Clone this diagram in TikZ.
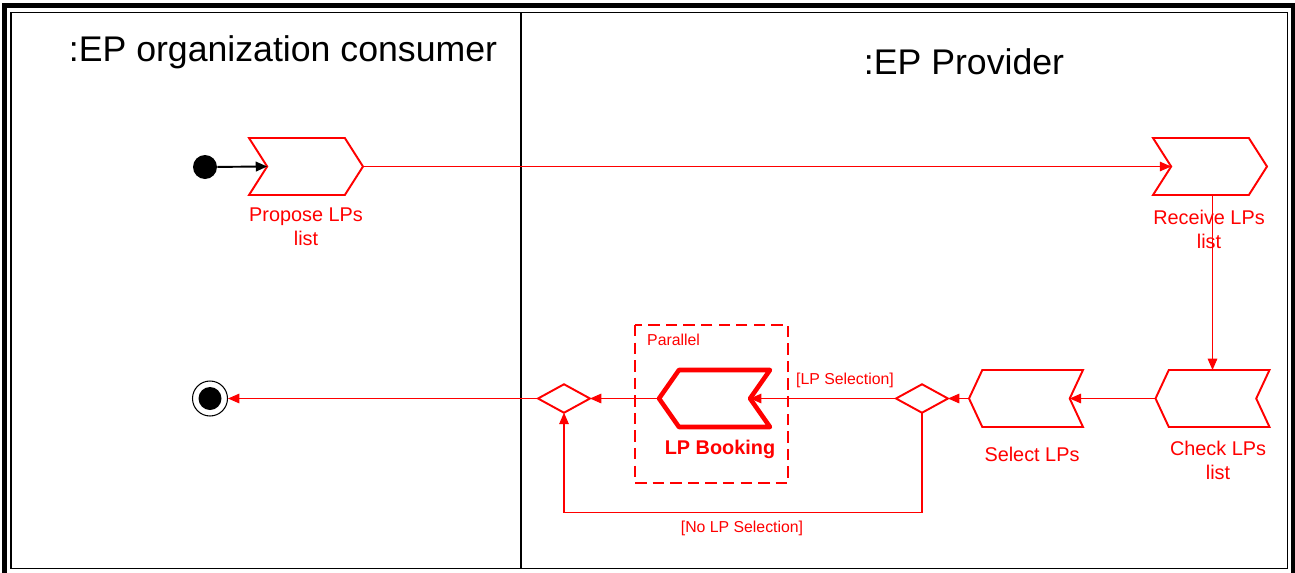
\documentclass[tikz,border=0pt]{standalone}
\usepackage{fontspec}
\setmainfont{Liberation Sans}
\usetikzlibrary{arrows.meta,positioning,calc,shapes.symbols,shapes.geometric}
\definecolor{Flow}{HTML}{FF0000}
\definecolor{Ink}{HTML}{000000}

\begin{document}
\begin{tikzpicture}[x=0.02cm,y=-0.02cm,>={Triangle[length=6.5pt,width=5.5pt]},
  act/.style={signal,draw=Flow,line width=1.1pt,minimum width=2.28cm,minimum height=1.14cm,inner sep=0pt,outer sep=0pt},
  fwd/.style={act,signal from=west,signal to=east,signal pointer angle=115},
  back/.style={act,signal from=east,signal to=west,signal pointer angle=130},
  choice/.style={diamond,draw=Flow,line width=1.1pt,minimum width=1.04cm,minimum height=0.57cm,inner sep=0pt,outer sep=0pt,aspect=1.8},
  flow/.style={->,Flow,line width=0.6pt},
  lbl/.style={text=Flow,align=center,font=\fontsize{11.3}{13.6}\selectfont},
  guard/.style={text=Flow,font=\fontsize{9}{11}\selectfont},
  lane/.style={font=\fontsize{20.3}{24}\selectfont}]
\useasboundingbox (0,0) rectangle (1295,572);
% frame and lanes
\draw[Ink,line width=2.8pt] (4.5,580) -- (4.5,5.5) -- (1293,5.5) -- (1293,580);
\draw[Ink,line width=1.1pt] (11,12.5) rectangle (1287.5,568.5);
\draw[Ink,line width=1.1pt] (521,12.5) -- (521,568.5);
\node[lane] (consumer) at (283,52) {:EP organization consumer};
\node[lane] (provider) at (964,62) {:EP Provider};
% parallel region
\draw[Flow,line width=1.1pt,dash pattern=on 6.5pt off 3.5pt] (635,325) rectangle (788,483);
\node[guard,anchor=west] (par) at (641,340) {Parallel};
% start and end
\node[circle,fill=Ink,minimum size=0.48cm,inner sep=0pt] (start) at (205,167) {};
\node[circle,draw=Ink,line width=0.6pt,minimum size=0.7cm,inner sep=0pt] (final) at (210,398.5) {};
\fill[Ink] (final.center) circle (0.23cm);
% actions
\node[fwd] (prop) at (306,166.5) {};
\node[lbl] (propT) at (306,227) {Propose LPs\\list};
\node[fwd] (recv) at (1210,166.5) {};
\node[lbl] (recvT) at (1209,229.5) {Receive LPs\\list};
\node[back] (check) at (1212.5,398.5) {};
\node[lbl] (checkT) at (1218,460) {Check LPs\\list};
\node[back] (select) at (1026,398.5) {};
\node[lbl] (selectT) at (1032,454) {Select LPs};
\node[back,line width=2.6pt,line join=round,minimum width=2.22cm,signal pointer angle=110] (book) at (714.5,398.5) {};
\node[lbl,font=\fontsize{11.3}{13.6}\selectfont\bfseries] (bookT) at (720,449) {LP Booking};
\node[choice] (dec) at (922,398.5) {};
\node[choice] (merge) at (564,398.5) {};
% flows
\draw[->,Ink,line width=1.1pt] (start) -- (prop.west);
\draw[flow] (prop.east) -- (recv.west);
\draw[flow] (recv.south -| check.north) -- (check.north);
\draw[flow] (check.west) -- (select.east);
\draw[flow] (select.west) -- (dec.east);
\draw[flow] (dec.west) -- (book.east);
\node[guard] (selG) at (845,380) {[LP Selection]};
\draw[flow] (book.west) -- (merge.east);
\draw[flow] (dec.south) -- ++(0,100) -| (merge.south);
\node[guard] (noG) at (742,528) {[No LP Selection]};
\draw[flow] (merge.west) -- (final);
\end{tikzpicture}
\end{document}
